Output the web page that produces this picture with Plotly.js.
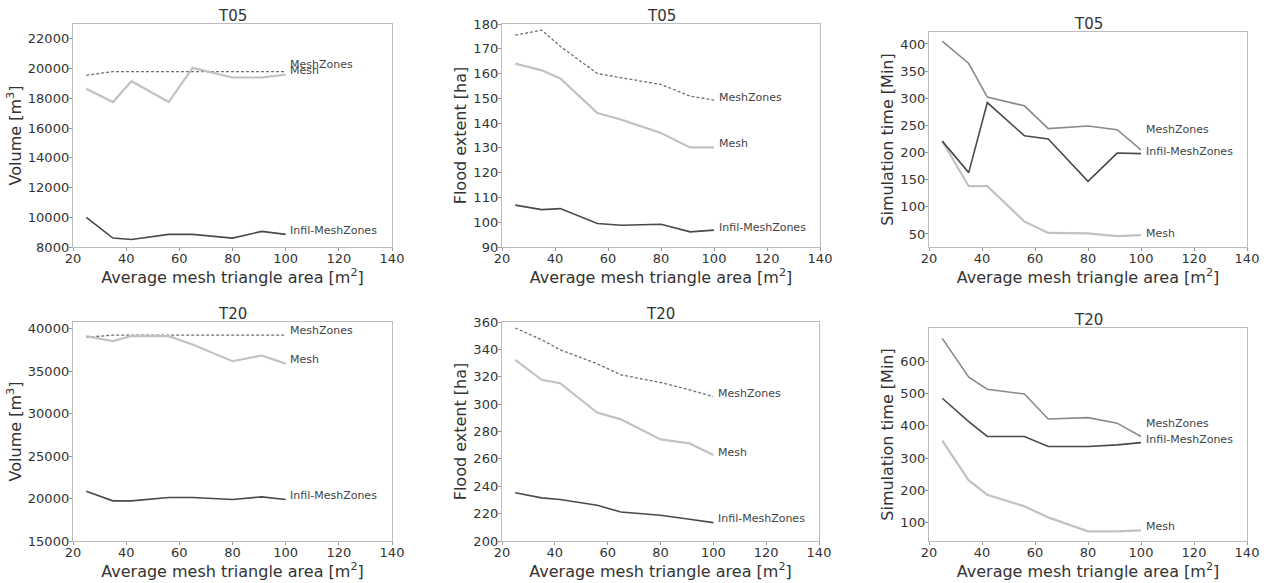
<!DOCTYPE html>
<html>
<head>
<meta charset="utf-8">
<script src="https://cdn.plot.ly/plotly-3.0.1.min.js"></script>
<style>html,body{margin:0;padding:0;background:#fff;}#chart{width:1267px;height:583px;}</style>
</head>
<body>
<div id="chart"></div>
<script>
// Average mesh triangle area [m2]
const meshArea = [25, 35, 42, 56, 65, 80, 91, 100];

// T05 volume [m3]
const t05VolMeshZones = [19550, 19800, 19800, 19800, 19850, 19800, 19800, 19800];
const t05VolMesh      = [18650, 17750, 19150, 17750, 20050, 19400, 19400, 19600];
const t05VolInfil     = [10000, 8600, 8500, 8850, 8850, 8600, 9050, 8850];
// T05 flood extent [ha]
const t05ExtMeshZones = [175.5, 177.5, 171.0, 160.0, 158.3, 155.6, 150.9, 149.3];
const t05ExtMesh      = [164.0, 161.3, 158.0, 144.1, 141.4, 136.0, 130.2, 130.2];
const t05ExtInfil     = [106.9, 105.1, 105.5, 99.5, 98.8, 99.2, 96.1, 96.8];
// T05 simulation time [Min]
const t05SimMeshZones = [405, 364, 302, 286, 244, 249, 242, 205];
const t05SimMesh      = [221, 138, 138, 73, 52, 51, 46, 48];
const t05SimInfil     = [221, 163, 292, 231, 225, 147, 199, 198];

// T20 volume [m3]
const t20VolMeshZones = [39000, 39250, 39250, 39250, 39250, 39250, 39250, 39250];
const t20VolMesh      = [39130, 38540, 39150, 39130, 38150, 36180, 36850, 35900];
const t20VolInfil     = [20875, 19730, 19730, 20130, 20130, 19890, 20200, 19890];
// T20 flood extent [ha]
const t20ExtMeshZones = [355.6, 347.1, 339.7, 329.5, 321.4, 315.8, 310.4, 305.5];
const t20ExtMesh      = [332.4, 317.8, 315.3, 293.8, 288.9, 274.2, 271.3, 262.8];
const t20ExtInfil     = [235.2, 231.5, 230.3, 226.1, 221.2, 218.8, 215.9, 213.4];
// T20 simulation time [Min]
const t20SimMeshZones = [670, 550, 513, 498, 421, 425, 408, 367];
const t20SimMesh      = [354, 231, 187, 151, 117, 74, 74, 77];
const t20SimInfil     = [485, 413, 367, 367, 336, 336, 341, 348];

// Series names and label heights (in data units) per panel: [MeshZones, Mesh, Infil]
const seriesNames = ["MeshZones", "Mesh", "Infil-MeshZones"];
const labelY = [
  [20250, 19850, 9120],
  [150.5, 131.7, 97.7],
  [242, 51, 202],
  [39800, 36370, 20330],
  [307.5, 264.5, 216.4],
  [408, 88, 357]
];
const panelTitles = ["T05", "T05", "T05", "T20", "T20", "T20"];
const yTitles = ["Volume [m<sup>3</sup>]", "Flood extent [ha]", "Simulation time [Min]",
                 "Volume [m<sup>3</sup>]", "Flood extent [ha]", "Simulation time [Min]"];
const yTicks = [
  [8000, 10000, 12000, 14000, 16000, 18000, 20000, 22000],
  [90, 100, 110, 120, 130, 140, 150, 160, 170, 180],
  [50, 100, 150, 200, 250, 300, 350, 400],
  [15000, 20000, 25000, 30000, 35000, 40000],
  [200, 220, 240, 260, 280, 300, 320, 340, 360],
  [100, 200, 300, 400, 500, 600]
];
const xTicks = [20, 40, 60, 80, 100, 120, 140];

const panelData = [
  [t05VolMeshZones, t05VolMesh, t05VolInfil],
  [t05ExtMeshZones, t05ExtMesh, t05ExtInfil],
  [t05SimMeshZones, t05SimMesh, t05SimInfil],
  [t20VolMeshZones, t20VolMesh, t20VolInfil],
  [t20ExtMeshZones, t20ExtMesh, t20ExtInfil],
  [t20SimMeshZones, t20SimMesh, t20SimInfil]
];

// Layout geometry (pixels)
const W = 1267, H = 583;
const boxes = [
  {l: 73, r: 392, t: 24, b: 247, yr: [8000, 23000]},
  {l: 502, r: 820, t: 24, b: 247, yr: [90, 180]},
  {l: 929, r: 1247, t: 32, b: 247, yr: [26, 422]},
  {l: 73, r: 392, t: 322, b: 541, yr: [15000, 40800]},
  {l: 502, r: 819, t: 322, b: 541, yr: [200, 360]},
  {l: 929, r: 1247, t: 328, b: 541, yr: [44, 702]}
];

const lineStyles = [
  {color: "#707070", width: 1.3, dash: "3px,2px"},
  {color: "#c2c2c2", width: 2.2, dash: "solid"},
  {color: "#4a4a4a", width: 1.6, dash: "solid"}
];
const simZoneStyle = {color: "#8a8a8a", width: 1.6, dash: "solid"};

const font = "DejaVu Sans, sans-serif";
const textColor = "#333";
const traces = [];
const annotations = [];
const layout = {
  width: W, height: H,
  margin: {l: 0, r: 0, t: 0, b: 0},
  paper_bgcolor: "#fff", plot_bgcolor: "#fff",
  showlegend: false, hovermode: false,
  font: {family: font, color: textColor, size: 13},
  annotations: annotations
};

boxes.forEach((bx, i) => {
  const n = i + 1;
  const xa = "x" + (n === 1 ? "" : n), ya = "y" + (n === 1 ? "" : n);
  const xKey = "xaxis" + (n === 1 ? "" : n), yKey = "yaxis" + (n === 1 ? "" : n);
  const isSim = (i === 2 || i === 5);
  panelData[i].forEach((vals, s) => {
    const st = (s === 0 && isSim) ? simZoneStyle : lineStyles[s];
    traces.push({
      type: "scatter", mode: "lines", x: meshArea, y: vals,
      xaxis: xa, yaxis: ya, name: seriesNames[s],
      line: {color: st.color, width: st.width, dash: st.dash}
    });
    annotations.push({
      xref: xa, yref: ya, x: 101, y: labelY[i][s], text: seriesNames[s],
      xanchor: "left", yanchor: "middle", showarrow: false,
      font: {family: font, size: 11, color: "#444"}
    });
  });
  layout[xKey] = {
    domain: [bx.l / W, bx.r / W], anchor: ya,
    range: [20, 140], tickvals: xTicks, ticktext: xTicks.map(String),
    showgrid: false, zeroline: false, showline: true, mirror: true,
    linecolor: "#bdbdbd", linewidth: 1.2, ticks: "outside", ticklen: 3,
    ticklabelstandoff: -4,
    tickcolor: "#999", tickfont: {family: font, size: 13, color: textColor},
    title: {text: "Average mesh triangle area [m<sup>2</sup>]", standoff: 2,
            font: {family: font, size: 16, color: textColor}}
  };
  layout[yKey] = {
    domain: [1 - bx.b / H, 1 - bx.t / H], anchor: xa,
    range: bx.yr, tickvals: yTicks[i], ticktext: yTicks[i].map(String),
    showgrid: false, zeroline: false, showline: true, mirror: true,
    linecolor: "#bdbdbd", linewidth: 1.2, ticks: "outside", ticklen: 3,
    ticklabelstandoff: -3,
    tickcolor: "#999", tickfont: {family: font, size: 13, color: textColor},
    title: {text: yTitles[i], standoff: 2,
            font: {family: font, size: 16, color: textColor}}
  };
  annotations.push({
    xref: "paper", yref: "paper",
    x: (bx.l + bx.r) / 2 / W, y: 1 - bx.t / H,
    text: panelTitles[i], showarrow: false,
    xanchor: "center", yanchor: "bottom", yshift: -3,
    font: {family: font, size: 15, color: textColor}
  });
});

Plotly.newPlot("chart", traces, layout, {staticPlot: true, displayModeBar: false});
</script>
</body>
</html>
